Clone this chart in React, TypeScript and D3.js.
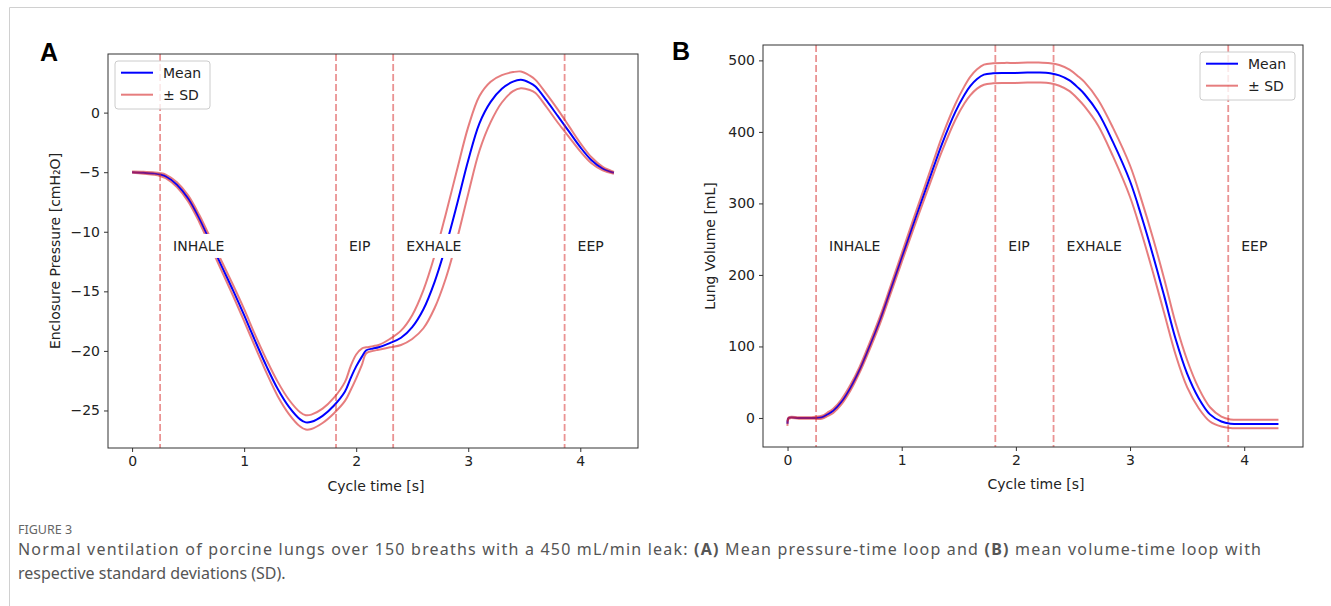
import React, { useEffect, useRef } from "react";
import * as d3 from "d3";

// ---------- Data ----------
const timeA = [0, 0.1, 0.2, 0.25, 0.3, 0.4, 0.5, 0.6, 0.7, 0.8, 0.9, 1.0, 1.1, 1.2, 1.3, 1.4, 1.5, 1.55, 1.6, 1.7, 1.8, 1.9, 1.95, 2.0, 2.05, 2.09, 2.15, 2.2, 2.3, 2.4, 2.5, 2.6, 2.7, 2.8, 2.9, 3.0, 3.1, 3.2, 3.3, 3.4, 3.47, 3.55, 3.6, 3.7, 3.8, 3.9, 4.0, 4.1, 4.2, 4.3];
const meanA = [-5.0, -5.05, -5.12, -5.2, -5.35, -6.05, -7.2, -8.9, -10.9, -12.9, -14.9, -17.0, -19.2, -21.3, -23.2, -24.7, -25.75, -26.0, -25.95, -25.45, -24.6, -23.4, -22.3, -21.3, -20.5, -19.95, -19.8, -19.7, -19.35, -18.9, -18.0, -16.5, -14.2, -11.2, -7.7, -4.0, -0.9, 0.9, 2.0, 2.6, 2.75, 2.5, 2.2, 1.0, -0.3, -1.6, -2.9, -4.0, -4.7, -5.05];
const sdA = [0.05, 0.08, 0.1, 0.12, 0.15, 0.2, 0.25, 0.3, 0.35, 0.4, 0.45, 0.5, 0.5, 0.55, 0.6, 0.6, 0.6, 0.6, 0.6, 0.6, 0.65, 0.8, 1.0, 1.0, 0.7, 0.25, 0.2, 0.2, 0.35, 0.6, 1.0, 1.6, 2.2, 2.7, 2.9, 2.8, 2.3, 1.7, 1.15, 0.8, 0.7, 0.6, 0.55, 0.55, 0.55, 0.45, 0.35, 0.25, 0.15, 0.08];

const timeB = [0, 0.01, 0.1, 0.2, 0.3, 0.35, 0.4, 0.47, 0.55, 0.63, 0.7, 0.81, 0.9, 1.0, 1.1, 1.2, 1.28, 1.35, 1.47, 1.55, 1.6, 1.66, 1.72, 1.8, 1.9, 2.0, 2.1, 2.2, 2.3, 2.38, 2.47, 2.55, 2.6, 2.72, 2.85, 3.0, 3.1, 3.2, 3.3, 3.4, 3.5, 3.6, 3.7, 3.8, 3.88, 4.0, 4.1, 4.2, 4.3];
const meanB = [-8, 0, 0, 0, 1, 5, 10, 22, 42, 67, 93, 137, 178, 224, 270, 315, 351, 382, 428, 452, 464, 474, 480, 482, 482.5, 482.5, 483, 483, 482, 479, 472, 461, 453, 427, 386, 331, 282, 228, 170, 110, 62, 28, 5, -5, -8, -8.5, -8.5, -8.5, -8.5];
const sdB = [3, 1, 1, 1, 2, 2.5, 3, 3.5, 4, 4, 4.5, 5, 5.5, 6, 7, 8, 9, 10, 11, 12, 13, 13.5, 14, 14, 14, 14, 14, 14, 14, 14.5, 15, 16, 17, 18, 20, 22, 23, 24, 24, 22, 19, 14, 10, 7, 6, 6, 6, 6, 6];

const phaseTimes = [0.25, 1.82, 2.33, 3.86];
const phaseLabels = ["INHALE", "EIP", "EXHALE", "EEP"];
const xTicks = [0, 1, 2, 3, 4];
const yTicksA = [0, -5, -10, -15, -20, -25];
const yTicksB = [0, 100, 200, 300, 400, 500];
const legendLabels = ["Mean", "\u00b1 SD"];

const MEAN_COLOR = "#0000ff";
const SD_COLOR = "#d62728";
const TEXT = "#222222";
const FONT = "'DejaVu Sans', sans-serif";

type PanelCfg = {
  left: number; right: number; top: number; bottom: number;
  xDomain: [number, number]; yDomain: [number, number];
  t: number[]; mean: number[]; sd: number[];
  yTicks: number[]; yLabel: string; yLabelX: number;
  letter: string; letterX: number; letterY: number;
  legendLeft: number; legendTop: number;
  labelY: number; xLabelY: number;
};

function drawPanel(svg: d3.Selection<SVGSVGElement, unknown, null, undefined>, c: PanelCfg, id: string) {
  const x = d3.scaleLinear().domain(c.xDomain).range([c.left, c.right]);
  const y = d3.scaleLinear().domain(c.yDomain).range([c.bottom, c.top]);
  const g = svg.append("g");

  g.append("clipPath").attr("id", "clip" + id).append("rect")
    .attr("x", c.left).attr("y", c.top).attr("width", c.right - c.left).attr("height", c.bottom - c.top);
  const plot = g.append("g").attr("clip-path", `url(#clip${id})`);

  const idx = c.t.map((_, i) => i);
  const mk = (f: (i: number) => number) =>
    d3.line<number>().x((i) => x(c.t[i])).y((i) => y(f(i))).curve(d3.curveCatmullRom.alpha(0.5))(idx);

  plot.append("path").attr("d", mk((i) => c.mean[i])).attr("fill", "none")
    .attr("stroke", MEAN_COLOR).attr("stroke-width", 2);
  plot.append("path").attr("d", mk((i) => c.mean[i] + c.sd[i])).attr("fill", "none")
    .attr("stroke", SD_COLOR).attr("stroke-opacity", 0.6).attr("stroke-width", 2);
  plot.append("path").attr("d", mk((i) => c.mean[i] - c.sd[i])).attr("fill", "none")
    .attr("stroke", SD_COLOR).attr("stroke-opacity", 0.6).attr("stroke-width", 2);

  phaseTimes.forEach((pt) => {
    plot.append("line").attr("x1", x(pt)).attr("x2", x(pt)).attr("y1", c.top).attr("y2", c.bottom)
      .attr("stroke", SD_COLOR).attr("stroke-opacity", 0.5).attr("stroke-width", 1.8)
      .attr("stroke-dasharray", "7,3");
  });

  // phase labels with white boxes
  phaseTimes.forEach((pt, i) => {
    const tg = plot.append("g");
    const txt = tg.append("text").attr("x", x(pt) + 13).attr("y", y(c.labelY))
      .attr("dy", "0.35em").attr("font-family", FONT).attr("font-size", 14).attr("fill", TEXT)
      .text(phaseLabels[i]);
    const bb = (txt.node() as SVGTextElement).getBBox();
    tg.insert("rect", "text").attr("x", bb.x - 4).attr("y", bb.y - 4)
      .attr("width", bb.width + 8).attr("height", bb.height + 8).attr("fill", "white");
  });

  // frame
  g.append("rect").attr("x", c.left).attr("y", c.top).attr("width", c.right - c.left)
    .attr("height", c.bottom - c.top).attr("fill", "none").attr("stroke", "#333").attr("stroke-width", 1);

  // axes
  const xa = g.append("g").attr("transform", `translate(0,${c.bottom})`)
    .call(d3.axisBottom(x).tickValues(xTicks).tickSize(4).tickPadding(4).tickFormat(d3.format("d")));
  const ya = g.append("g").attr("transform", `translate(${c.left},0)`)
    .call(d3.axisLeft(y).tickValues(c.yTicks).tickSize(4).tickPadding(4).tickFormat(d3.format("d")));
  [xa, ya].forEach((a) => {
    a.select(".domain").remove();
    a.selectAll("line").attr("stroke", "#333");
    a.selectAll("text").attr("font-family", FONT).attr("font-size", 14).attr("fill", TEXT);
  });

  g.append("text").attr("x", (c.left + c.right) / 2 + 3).attr("y", c.xLabelY).attr("text-anchor", "middle")
    .attr("font-family", FONT).attr("font-size", 14).attr("fill", TEXT).text("Cycle time [s]");
  g.append("text").attr("transform", `translate(${c.yLabelX},${(c.top + c.bottom) / 2}) rotate(-90)`)
    .attr("text-anchor", "middle").attr("dy", "0.35em")
    .attr("font-family", FONT).attr("font-size", 14).attr("fill", TEXT).text(c.yLabel);

  g.append("text").attr("x", c.letterX).attr("y", c.letterY)
    .attr("font-family", "'Liberation Sans', Arial, sans-serif").attr("font-weight", "bold")
    .attr("font-size", 25).attr("fill", "#000").text(c.letter);

  // legend
  const lg = g.append("g").attr("transform", `translate(${c.legendLeft},${c.legendTop})`);
  lg.append("rect").attr("width", 95).attr("height", 48).attr("rx", 3)
    .attr("fill", "white").attr("fill-opacity", 0.8).attr("stroke", "#cccccc").attr("stroke-width", 1);
  legendLabels.forEach((lab, i) => {
    const yy = 11.7 + i * 22;
    lg.append("line").attr("x1", 6).attr("x2", 38).attr("y1", yy).attr("y2", yy)
      .attr("stroke", i === 0 ? MEAN_COLOR : SD_COLOR)
      .attr("stroke-opacity", i === 0 ? 1 : 0.6).attr("stroke-width", 2);
    lg.append("text").attr("x", 48).attr("y", yy).attr("dy", "0.35em")
      .attr("font-family", FONT).attr("font-size", 14).attr("fill", TEXT).text(lab);
  });
}

export default function App() {
  const ref = useRef<SVGSVGElement>(null);
  useEffect(() => {
    const svg = d3.select(ref.current!);
    svg.selectAll("*").remove();

    // outer frame lines
    svg.append("line").attr("x1", 9.5).attr("x2", 1331).attr("y1", 7.5).attr("y2", 7.5)
      .attr("stroke", "#d0d0d0").attr("stroke-width", 1);
    svg.append("line").attr("x1", 9.5).attr("x2", 9.5).attr("y1", 7.5).attr("y2", 606)
      .attr("stroke", "#d0d0d0").attr("stroke-width", 1);

    drawPanel(svg, {
      left: 108, right: 638, top: 54, bottom: 448,
      xDomain: [-0.215, 4.515], yDomain: [-28.15, 4.92],
      t: timeA, mean: meanA, sd: sdA, yTicks: yTicksA,
      yLabel: "Enclosure Pressure [cmH\u2082O]", yLabelX: 55,
      letter: "A", letterX: 40, letterY: 61,
      legendLeft: 115, legendTop: 61, labelY: -11.2, xLabelY: 491,
    }, "A");

    drawPanel(svg, {
      left: 763, right: 1303, top: 45, bottom: 447,
      xDomain: [-0.215, 4.515], yDomain: [-40.6, 521.5],
      t: timeB, mean: meanB, sd: sdB, yTicks: yTicksB,
      yLabel: "Lung Volume [mL]", yLabelX: 710,
      letter: "B", letterX: 672, letterY: 60,
      legendLeft: 1200, legendTop: 52, labelY: 240, xLabelY: 489,
    }, "B");

    // caption
    const capFont = "'Noto Sans', 'Open Sans', sans-serif";
    svg.append("text").attr("x", 18).attr("y", 534).attr("font-family", capFont)
      .attr("font-size", 12.5).attr("fill", "#666").text("FIGURE 3");
    const l1 = svg.append("text").attr("x", 18).attr("y", 555).attr("font-family", capFont)
      .attr("font-size", 16).attr("fill", "#555").attr("textLength", 1243).attr("lengthAdjust", "spacing");
    l1.append("tspan").text("Normal ventilation of porcine lungs over 150 breaths with a 450 mL/min leak: ");
    l1.append("tspan").attr("font-weight", "bold").text("(A)");
    l1.append("tspan").text(" Mean pressure-time loop and ");
    l1.append("tspan").attr("font-weight", "bold").text("(B)");
    l1.append("tspan").text(" mean volume-time loop with");
    svg.append("text").attr("x", 18).attr("y", 579).attr("font-family", capFont)
      .attr("font-size", 16).attr("fill", "#555")
      .text("respective standard deviations (SD).");
  }, []);

  return (
    <svg ref={ref} width={1331} height={606}
      style={{ position: "absolute", left: 0, top: 0, background: "white" }} />
  );
}
